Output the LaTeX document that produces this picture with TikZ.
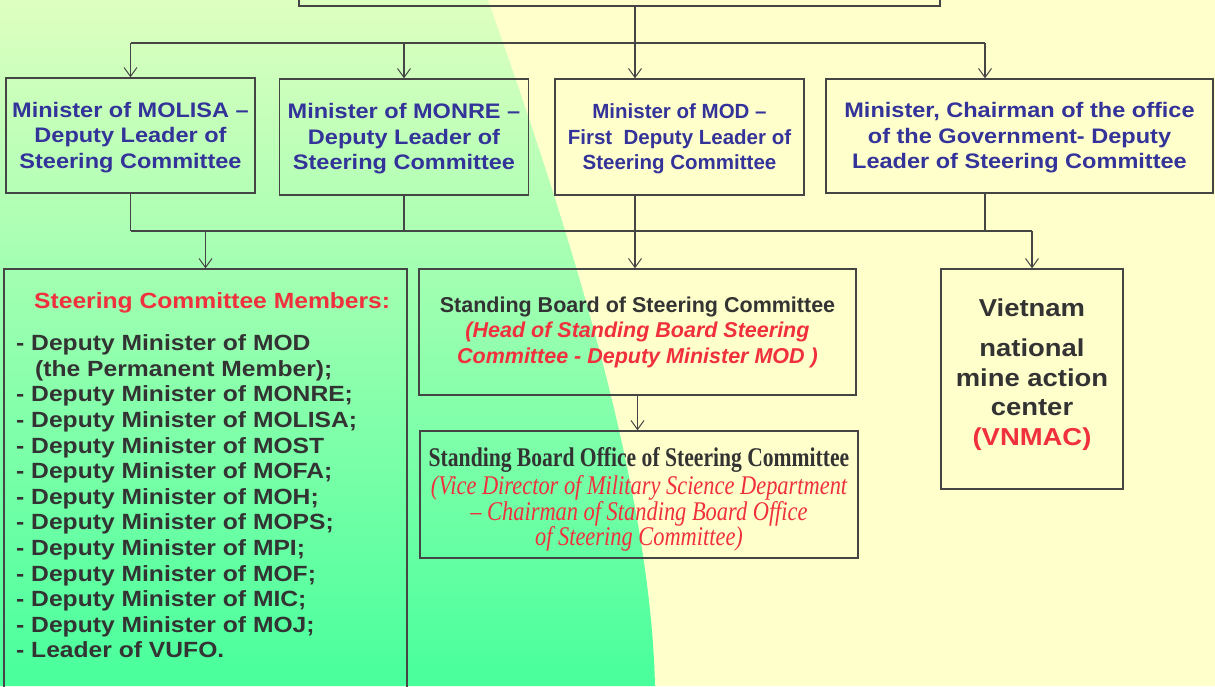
\documentclass[tikz,border=0pt]{standalone}
\usepackage{fontspec}
\setmainfont{Liberation Sans}
\newfontfamily\widesans[FakeStretch=1.12]{Liberation Sans}
\newfontfamily\narrowserif[FakeStretch=0.80]{Liberation Serif}
\newfontfamily\narrowitalic[FakeStretch=0.83]{Liberation Serif}
\usetikzlibrary{arrows.meta}
\usetikzlibrary{calc}
\definecolor{bgyellow}{HTML}{FFFFCC}
\definecolor{greentop}{HTML}{DEFFC0}
\definecolor{greenbot}{HTML}{48FF9C}
\definecolor{minblue}{HTML}{333399}
\definecolor{memred}{HTML}{F0303C}
\definecolor{darktext}{HTML}{333333}
\definecolor{linegray}{HTML}{454545}

\begin{document}
\begin{tikzpicture}[x=1pt, y=-1pt,
    box/.style={draw=linegray, line width=1.4pt, rectangle, inner sep=0pt},
    link/.style={draw=linegray, line width=1.4pt},
    arr/.style={link, -{Straight Barb[length=9pt, width=13pt, line width=1pt]}},
    minister/.style={box, align=center, text=minblue,
        font=\widesans\bfseries\fontsize{21}{25.5}\selectfont}]
            % Background
            \useasboundingbox (0,0) rectangle (1215,686);
            \clip (0,0) rectangle (1215,686);
            \fill[bgyellow] (0,0) rectangle (1215,686);
            \shade[top color=greentop, bottom color=greenbot]
                (0,0) -- (488,0) .. controls (555,190) and (650,470) .. (655,686) -- (0,686) -- cycle;

            % Head (cut off at the top)
            \node[box, minimum width=641pt, minimum height=72pt] (head) at (619.5,-30) {};

            % Ministers
            \node[minister, minimum width=249pt, minimum height=115pt] (molisa) at (130.5,135.5)
                {\rule{0pt}{19pt}Minister of MOLISA –\\Deputy Leader of\\Steering Committee};
            \node[minister, minimum width=248.5pt, minimum height=116pt] (monre) at (404,137)
                {\rule{0pt}{19pt}Minister of MONRE –\\Deputy Leader of\\Steering Committee};
            \node[minister, minimum width=249pt, minimum height=116pt,
                font=\bfseries\fontsize{20.5}{25.5}\selectfont] (mod) at (679.5,137)
                {\rule{0pt}{19pt}Minister of MOD –\\First\ \ Deputy Leader of\\Steering Committee};
            \node[minister, minimum width=387pt, minimum height=114pt] (chair) at (1019.5,136)
                {\rule{0pt}{19pt}Minister, Chairman of the office\\of the Government- Deputy\\Leader of Steering Committee};

            % Members
            \node[box, minimum width=403pt, minimum height=431pt] (members) at (205.5,484.5) {};
            \node[anchor=north west, align=left, inner sep=0pt, text=darktext,
                font=\widesans\bfseries\fontsize{22}{25.6}\selectfont] (memberlist) at (16,292)
                {\makebox[392pt][c]{\color{memred}Steering Committee Members:}\\[17pt]
                 - Deputy Minister of MOD\\
                 \hspace*{19pt}(the Permanent Member);\\
                 - Deputy Minister of MONRE;\\
                 - Deputy Minister of MOLISA;\\
                 - Deputy Minister of MOST\\
                 - Deputy Minister of MOFA;\\
                 - Deputy Minister of MOH;\\
                 - Deputy Minister of MOPS;\\
                 - Deputy Minister of MPI;\\
                 - Deputy Minister of MOF;\\
                 - Deputy Minister of MIC;\\
                 - Deputy Minister of MOJ;\\
                 - Leader of VUFO.};

            % Standing board and its office
            \node[box, minimum width=437pt, minimum height=126pt, align=center, text=darktext,
                font=\bfseries\fontsize{21.5}{25.5}\selectfont] (board) at (637.5,332)
                {Standing Board of Steering Committee\\
                 {\color{memred}\itshape (Head of Standing Board Steering}\\
                 {\color{memred}\itshape Committee - Deputy Minister MOD )}};
            \node[box, minimum width=438pt, minimum height=127pt, align=center, text=darktext,
                font=\narrowserif\fontsize{27}{24.5}\selectfont] (office) at (639,494.5)
                {\rule{0pt}{29pt}{\bfseries Standing Board Office of Steering Committee}\\[2pt]
                 {\narrowitalic\color{memred}\itshape (Vice Director of Military Science Department}\\
                 {\narrowitalic\color{memred}\itshape – Chairman of Standing Board Office}\\
                 {\narrowitalic\color{memred}\itshape of Steering Committee)}};

            % VNMAC
            \node[box, minimum width=182pt, minimum height=220pt, align=center, text=darktext,
                font=\widesans\bfseries\fontsize{24.5}{29.5}\selectfont] (vnmac) at (1032,379)
                {Vietnam\\[11pt]national\\mine action\\center\\{\color{memred}(VNMAC)}\rule[-14pt]{0pt}{1pt}};

            % Upper connectors
            \coordinate (topbus) at (635,43);
            \coordinate (busL) at (130.5,43);
            \coordinate (busR) at (985,43);
            \draw[link] (head.south -| topbus) -- (topbus);
            \draw[link] (busL) -- (busR);
            \draw[arr] (busL) -- (molisa.north);
            \draw[arr] (monre.north |- busL) -- (monre.north);
            \draw[arr] (topbus) -- (mod.north -| topbus);
            \draw[arr] (busR) -- (chair.north -| busR);

            % Lower connectors
            \coordinate (lowL) at (130.5,231);
            \coordinate (lowR) at (1032,231);
            \draw[link] (molisa.south) -- (lowL);
            \draw[link] (monre.south) -- (monre.south |- lowL);
            \draw[link] (mod.south -| topbus) -- (topbus |- lowL);
            \draw[link] (chair.south -| busR) -- (busR |- lowL);
            \draw[link] (lowL) -- (lowR);
            \draw[arr] (members.north |- lowL) -- (members.north);
            \draw[arr] (topbus |- lowL) -- (board.north -| topbus);
            \draw[arr] (lowR) -- (vnmac.north);
            \draw[arr] (board.south) -- (office.north -| board.south);

        \end{tikzpicture}
\end{document}
